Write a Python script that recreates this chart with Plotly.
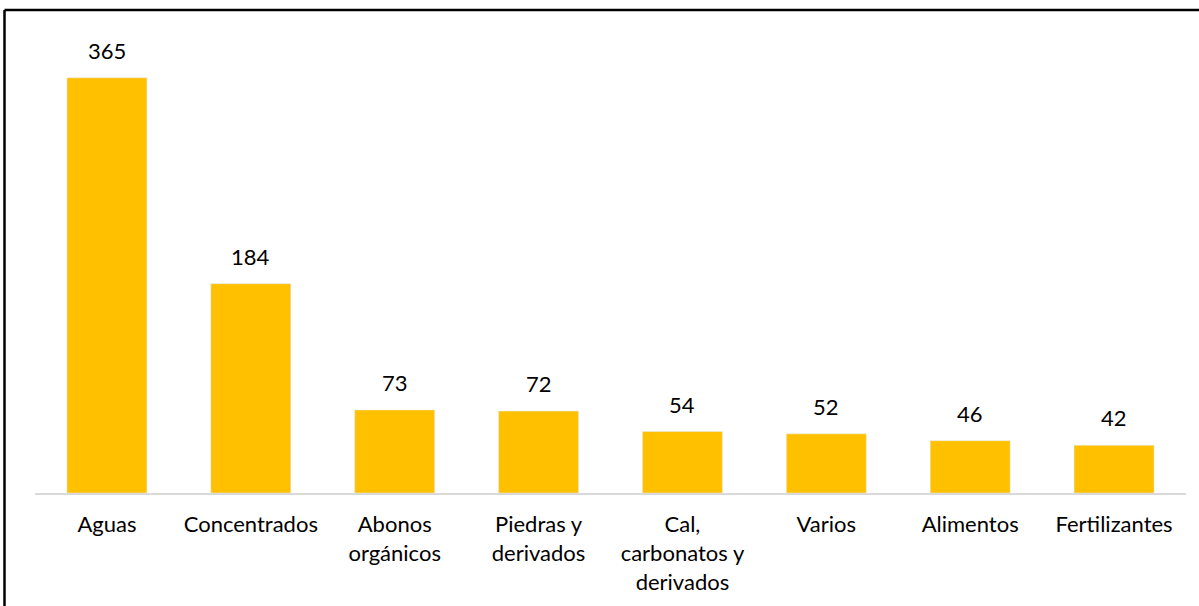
import plotly.graph_objects as go

categorias = ["Aguas", "Concentrados", "Abonos<br>orgánicos", "Piedras y<br>derivados",
              "Cal,<br>carbonatos y<br>derivados", "Varios", "Alimentos", "Fertilizantes"]
valores = [365, 184, 73, 72, 54, 52, 46, 42]

fig = go.Figure(go.Bar(x=categorias, y=valores, marker_color="#FFC000", width=0.556))

# etiquetas de valor encima de cada barra
for c, v in zip(categorias, valores):
    fig.add_annotation(x=c, y=v, text=str(v), showarrow=False, yanchor="bottom",
                       yshift=12, font=dict(size=22, color="#000000"))

# marco negro (solo se ven los bordes superior e izquierdo)
fig.add_shape(type="line", xref="paper", yref="paper", x0=-0.0265, x1=1.2, y0=1.0615, y1=1.0615,
              line=dict(color="#000000", width=2.5))
fig.add_shape(type="line", xref="paper", yref="paper", x0=-0.0265, x1=-0.0265, y0=-0.5, y1=1.0615,
              line=dict(color="#000000", width=2.5))

fig.update_layout(
    width=1199, height=606,
    margin=dict(l=35, r=13, t=38, b=113),
    plot_bgcolor="white", paper_bgcolor="white",
    font=dict(family="Lato", size=22, color="#000000"),
    showlegend=False,
    xaxis=dict(showline=True, linecolor="#D9D9D9", linewidth=2, ticks="",
               ticklabelstandoff=11, showgrid=False),
    yaxis=dict(range=[0, 400], visible=False, showgrid=False),
)

# quitar el margen por defecto del body
fig.write_html("out.html", config={"displayModeBar": False},
               post_script="document.body.style.margin='0';")
